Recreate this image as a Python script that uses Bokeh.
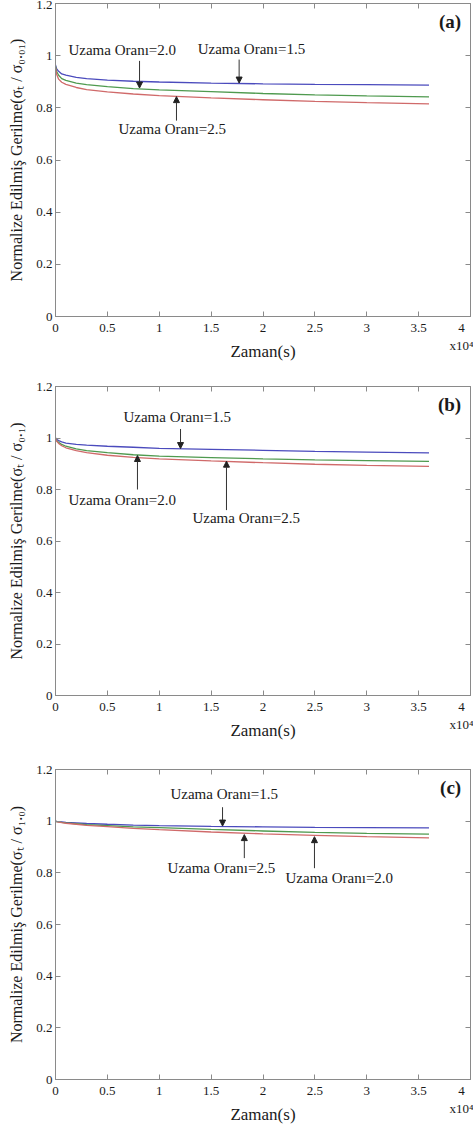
from bokeh.plotting import figure
from bokeh.layouts import column
from bokeh.models import (LinearAxis, FixedTicker, Label, Arrow, NormalHead, Range1d)
from bokeh.embed import file_html
from bokeh.resources import INLINE

# ---- data ----
time_s = [0, 100, 300, 600, 1000, 2000, 3000, 5000, 7500, 10000, 15000, 20000, 25000, 30000, 36000]

a_ratio15 = [0.965, 0.95, 0.94, 0.93, 0.925, 0.917, 0.912, 0.906, 0.902, 0.899, 0.895, 0.892, 0.890, 0.889, 0.887]
a_ratio20 = [0.96, 0.94, 0.925, 0.912, 0.905, 0.895, 0.889, 0.881, 0.874, 0.869, 0.862, 0.855, 0.850, 0.846, 0.842]
a_ratio25 = [0.955, 0.93, 0.91, 0.898, 0.89, 0.878, 0.87, 0.861, 0.853, 0.847, 0.838, 0.831, 0.825, 0.82, 0.815]

b_ratio15 = [1.0, 0.995, 0.99, 0.985, 0.98, 0.975, 0.972, 0.968, 0.964, 0.96, 0.956, 0.952, 0.948, 0.945, 0.942]
b_ratio20 = [1.0, 0.99, 0.983, 0.975, 0.968, 0.958, 0.951, 0.943, 0.935, 0.93, 0.924, 0.919, 0.915, 0.912, 0.909]
b_ratio25 = [1.0, 0.988, 0.979, 0.97, 0.962, 0.951, 0.943, 0.933, 0.925, 0.919, 0.911, 0.904, 0.898, 0.894, 0.89]

c_ratio15 = [1.0, 0.999, 0.998, 0.997, 0.995, 0.993, 0.991, 0.988, 0.985, 0.983, 0.98, 0.978, 0.976, 0.975, 0.974]
c_ratio20 = [1.0, 0.998, 0.997, 0.995, 0.993, 0.99, 0.987, 0.983, 0.978, 0.975, 0.968, 0.962, 0.957, 0.953, 0.95]
c_ratio25 = [1.0, 0.998, 0.996, 0.994, 0.992, 0.988, 0.984, 0.979, 0.972, 0.967, 0.958, 0.951, 0.945, 0.94, 0.935]

x_ticks = [0, 5000, 10000, 15000, 20000, 25000, 30000, 35000, 40000]
x_tick_labels = ["0", "0.5", "1", "1.5", "2", "2.5", "3", "3.5", "4"]
x_multiplier = "x10⁴"
y_ticks = [0, 0.2, 0.4, 0.6, 0.8, 1.0, 1.2]
y_tick_labels = ["0", "0.2", "0.4", "0.6", "0.8", "1", "1.2"]

SERIF = "Liberation Serif, serif"
BLUE, GREEN, RED = "#4b4bbd", "#4f9a4f", "#d06a6a"
AXC = "#8a8a8a"
TXT = "#1a1a1a"


def panel(series, sub, tag, notes, height, top, bottom):
    p = figure(width=473, height=height, output_backend="svg", toolbar_location=None,
               x_range=Range1d(0, 40000), y_range=Range1d(0, 1.2),
               min_border_left=55, min_border_right=3, min_border_top=top, min_border_bottom=bottom)
    p.grid.visible = False
    p.outline_line_color = AXC
    for ys, col in zip(series, (BLUE, GREEN, RED)):
        p.line(time_s, ys, line_color=col, line_width=1.3)
    for ax in (p.xaxis[0], p.yaxis[0]):
        ax.axis_line_color = AXC
        ax.major_tick_line_color = AXC
        ax.major_tick_in = 5
        ax.major_tick_out = 0
        ax.minor_tick_line_color = None
        ax.major_label_text_font = SERIF
        ax.major_label_text_font_size = "13px"
        ax.major_label_text_color = TXT
        ax.axis_label_text_font = SERIF
        ax.axis_label_text_font_style = "normal"
        ax.axis_label_text_color = TXT
    xl = dict(zip(x_ticks, x_tick_labels))
    # last tick carries the x10^4 multiplier on a second line
    xl[x_ticks[-1]] = x_tick_labels[-1] + "\n" + x_multiplier
    p.xaxis[0].ticker = FixedTicker(ticks=x_ticks)
    p.xaxis[0].major_label_overrides = xl
    p.yaxis[0].ticker = FixedTicker(ticks=y_ticks)
    p.yaxis[0].major_label_overrides = dict(zip(y_ticks, y_tick_labels))
    p.xaxis[0].axis_label = "Zaman(s)"
    p.xaxis[0].axis_label_text_font_size = "17px"
    p.xaxis[0].axis_label_standoff = -14
    p.xaxis[0].major_label_standoff = 3
    p.yaxis[0].axis_label = "Normalize Edilmiş Gerilme(σₜ / σ" + sub + ")"
    p.yaxis[0].axis_label_text_font_size = "16px"
    p.yaxis[0].axis_label_standoff = 8
    p.yaxis[0].major_label_standoff = 3
    # mirrored ticks on top and right (no labels)
    for loc, tk in (("above", x_ticks), ("right", y_ticks)):
        ax = LinearAxis(ticker=FixedTicker(ticks=tk), axis_line_color=AXC,
                        major_tick_line_color=AXC, major_tick_in=5, major_tick_out=0,
                        minor_tick_line_color=None, major_label_standoff=0,
                        major_label_overrides={t: "" for t in tk})
        p.add_layout(ax, loc)
    # panel tag
    p.add_layout(Label(x=39100, y=1.13, text=tag, text_font=SERIF, text_font_size="19px",
                       text_font_style="bold", text_align="right", text_baseline="middle",
                       text_color=TXT))
    for (tx, ty, txt, ax_, y0, y1) in notes:
        p.add_layout(Label(x=tx, y=ty, text=txt, text_font=SERIF, text_font_size="15px",
                           text_baseline="middle", text_color=TXT))
        p.add_layout(Arrow(end=NormalHead(size=6, fill_color="#222222", line_color="#222222"),
                           x_start=ax_, y_start=y0, x_end=ax_, y_end=y1,
                           line_color="#333333", line_width=1))
    return p


pa = panel((a_ratio15, a_ratio20, a_ratio25), "₀.₀₁", "(a)",
           [(1250, 1.02, "Uzama Oranı=2.0", 8100, 0.98, 0.876),
            (13700, 1.027, "Uzama Oranı=1.5", 17700, 0.985, 0.895),
            (6070, 0.72, "Uzama Oranı=2.5", 11660, 0.751, 0.843)],
           376, 3, 60)
pb = panel((b_ratio15, b_ratio20, b_ratio25), "₀.₁", "(b)",
           [(6550, 1.08, "Uzama Oranı=1.5", 12050, 1.035, 0.959),
            (1250, 0.76, "Uzama Oranı=2.0", 7900, 0.80, 0.932),
            (13200, 0.69, "Uzama Oranı=2.5", 16480, 0.72, 0.91)],
           382, 10, 63)
pc = panel((c_ratio15, c_ratio20, c_ratio25), "₁.₀", "(c)",
           [(11080, 1.107, "Uzama Oranı=1.5", 16100, 1.054, 0.981),
            (10800, 0.818, "Uzama Oranı=2.5", 18200, 0.857, 0.948),
            (22170, 0.78, "Uzama Oranı=2.0", 24960, 0.818, 0.94)],
           368, 11, 46)

layout = column(pa, pb, pc, spacing=0)
open("out.html", "w").write(file_html(layout, INLINE))
